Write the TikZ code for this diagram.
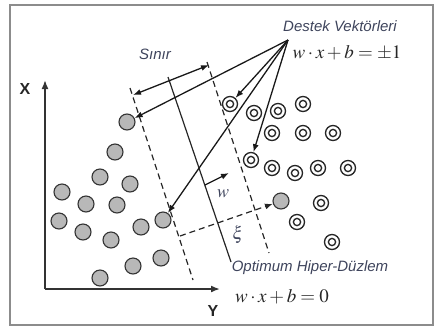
\documentclass[tikz,border=0pt]{standalone}
\usepackage{fontspec}
\usepackage{mathptmx}
\setsansfont{Liberation Sans}
\usetikzlibrary{arrows.meta}

\definecolor{yazirengi}{RGB}{62,68,92}
\definecolor{cerceverengi}{RGB}{140,140,140}

\begin{document}
\begin{tikzpicture}[x=1pt, y=-1pt,
    daire/.style   = {circle, draw=black!80, fill=black!28, line width=1.1pt,
                      minimum size=16pt, inner sep=0pt},
    halka/.style   = {circle, draw=black!85, fill=white, line width=1.35pt,
                      minimum size=15pt, inner sep=0pt,
                      path picture={\draw[line width=1.35pt]
                        (path picture bounding box.center) circle (3.6pt);}},
    ok/.style      = {-{Latex[length=8pt,width=6pt]}, draw=black!90,
                      line width=1.3pt},
    ciftok/.style  = {{Latex[length=8pt,width=6pt]}-{Latex[length=8pt,width=6pt]},
                      draw=black!90, line width=1.3pt},
    eksen/.style   = {-{Latex[length=9pt,width=7pt]}, draw=black!80,
                      line width=1.7pt},
    cizgi/.style   = {draw=black!85, line width=1.2pt},
    kesik/.style   = {draw=black!85, line width=1.2pt, dash pattern=on 6pt off 4pt},
    kesikok/.style = {kesik, -{Latex[length=8pt,width=6pt]}},
    cerceve/.style = {draw=cerceverengi, line width=2pt},
    etiket/.style  = {font=\sffamily\itshape\fontsize{15}{18}\selectfont,
                      text=yazirengi, inner sep=1pt},
    denklem/.style = {font=\fontsize{19}{22}\selectfont, text=black!85, inner sep=1pt},
    harf/.style    = {font=\sffamily\bfseries\fontsize{16}{18}\selectfont,
                      text=black!85, inner sep=1pt},
    sembol/.style  = {font=\fontsize{18}{21}\selectfont, text=yazirengi, inner sep=1pt},
  ]
  \useasboundingbox (0,0) rectangle (435,327);
  \draw[cerceve] (10,5) rectangle (433,325);

  %-------------------------------------------------- eksenler
  \coordinate (O)  at (45,289);
  \coordinate (Xu) at (45,80);
  \coordinate (Yu) at (220,289);
  \draw[eksen] (O) -- (Xu);
  \draw[eksen] (O) -- (Yu);
  \node[harf] (X) at (25,89)  {X};
  \node[harf] (Y) at (213,311) {Y};

  %-------------------------------------------------- hiper-duzlem ve sinirlar
  \coordinate (Hu) at (168,77);
  \coordinate (Ha) at (231,262);
  \coordinate (Su) at (130,88);
  \coordinate (Sa) at (193,280);
  \coordinate (Ku) at (207,62);
  \coordinate (Ka) at (269,253);
  \draw[cizgi] (Hu) -- (Ha);
  \draw[kesik] (Su) -- (Sa);
  \draw[kesik] (Ku) -- (Ka);

  %-------------------------------------------------- sinif 1 (gri)
  \foreach \x/\y [count=\i] in {127/122, 115/152, 100/177, 130/184, 62/192,
      86/204, 117/205, 59/221, 83/232, 141/227, 163/220, 111/240,
      161/258, 133/266, 100/278}
    \node[daire] (g\i) at (\x,\y) {};
  \node[daire] (gs) at (281,201) {};

  %-------------------------------------------------- sinif 2 (halka)
  \foreach \x/\y [count=\i] in {230/104, 254/113, 278/111, 303/104,
      272/133, 303/133, 333/133, 251/160, 272/168, 295/173, 318/168,
      348/168, 321/203, 297/222, 332/242}
    \node[halka] (r\i) at (\x,\y) {};

  %-------------------------------------------------- destek vektorleri
  \coordinate (tepe) at (288,40);
  \node[etiket] (DV) at (340,26) {Destek Vekt\"orleri};
  \node[denklem] (E1) at (347,53) {$w\cdot x+b=\pm1$};
  \draw[ok] (tepe) -- (g1);
  \draw[ok] (tepe) -- (r1);
  \draw[ok] (tepe) -- (g11);
  \draw[ok] (tepe) -- (r8);

  %-------------------------------------------------- sinir
  \coordinate (SL) at (133,95);
  \coordinate (SR) at (209,65);
  \draw[ciftok] (SL) -- (SR);
  \node[etiket] (S) at (155,54) {S\i n\i r};

  %-------------------------------------------------- w ve xi
  \coordinate (wb) at (205,185);
  \coordinate (wu) at (229,173);
  \draw[ok] (wb) -- (wu);
  \node[sembol] (w) at (223,194) {$w$};
  \coordinate (xb) at (180,236);
  \draw[kesikok] (xb) -- (gs);
  \node[sembol] (xi) at (238,235) {$\xi$};

  %-------------------------------------------------- optimum hiper-duzlem
  \node[etiket] (OH) at (310,268) {Optimum Hiper-D\"uzlem};
  \node[denklem] (E0) at (282,297) {$w\cdot x+b=0$};
\end{tikzpicture}
\end{document}
